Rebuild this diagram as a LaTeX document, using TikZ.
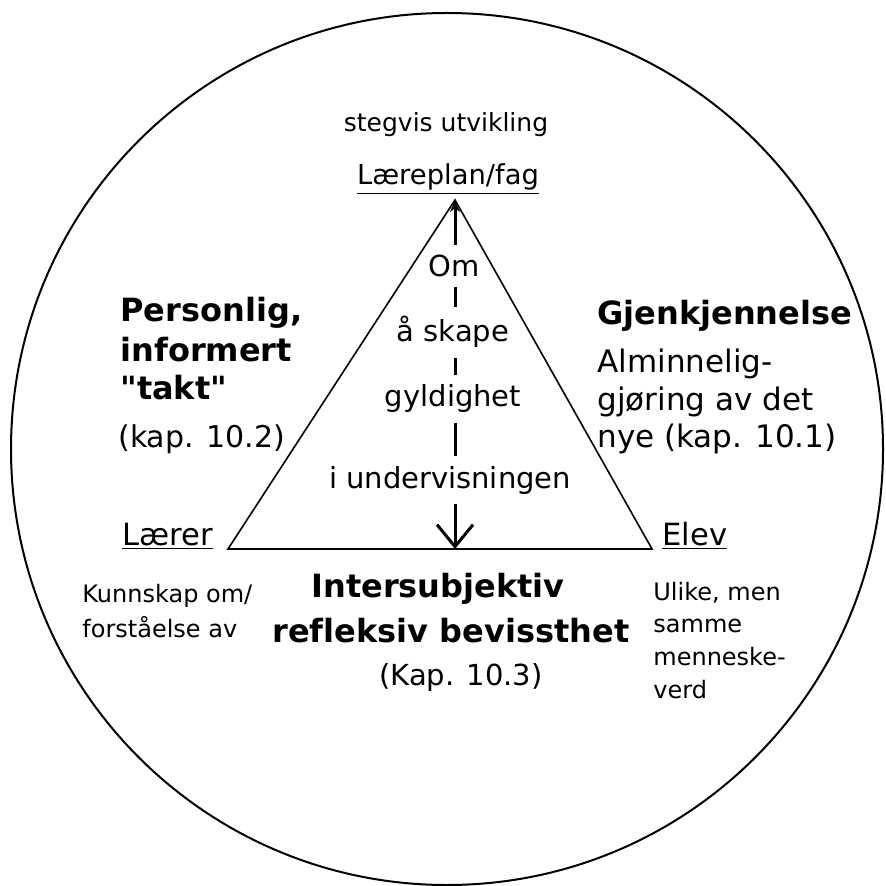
\documentclass[tikz,border=0pt]{standalone}
\usepackage{fontspec}
\setmainfont{DejaVu Sans}[Ligatures={TeX,NoCommon}]
\usetikzlibrary{arrows.meta}
\newcommand{\fs}[1]{\fontsize{#1}{#1}\selectfont}
\begin{document}
\begin{tikzpicture}[x=0.5pt,y=-0.5pt,
    lbl/.style={inner sep=0pt,anchor=base west},
    mid/.style={inner sep=0pt,anchor=base},
    axis/.style={mid,fill=white,inner xsep=2pt,inner ysep=5pt,font=\fs{14.5}}]
  \useasboundingbox (0,0) rectangle (885,886);
  \draw[line width=1pt] (447,449) circle (218pt);
  % triangle
  \coordinate (fag) at (455,200);
  \coordinate (laerer) at (228,549);
  \coordinate (elev) at (652,549);
  \coordinate (basis) at (455,549);
  \draw[line width=1.5pt,{Stealth[length=6pt,width=5pt]}-{Straight Barb[length=11pt,width=18pt]}] (fag) -- (basis);
  \node[axis] (om) at (454,277) {Om};
  \node[axis] (skape) at (453,342) {å skape};
  \node[axis] (gyldig) at (453,407) {gyldighet};
  \node[axis] (underv) at (450,488) {i undervisningen};
  \draw[line width=0.8pt] (fag) -- (laerer) -- (elev) -- cycle;
  % top
  \node[mid,font=\fs{12.5}] (steg) at (446,132) {stegvis utvikling};
  \node[mid,font=\fs{13.7}] (plan) at (448,185) {\underline{Læreplan/fag}};
  % left
  \node[lbl,font=\bfseries\fs{16}] (pers) at (120,322) {Personlig,};
  \node[lbl,font=\bfseries\fs{16}] (inform) at (120,362) {informert};
  \node[lbl,font=\bfseries\fs{16}] (takt) at (120,400) {\textquotedbl takt\textquotedbl};
  \node[lbl,font=\fs{15}] (kap2) at (118,447) {(kap. 10.2)};
  % right
  \node[lbl,font=\bfseries\fs{16}] (gjenk) at (597,325) {Gjenkjennelse};
  \node[lbl,font=\fs{15.5}] (almin) at (597,373) {Alminnelig-};
  \node[lbl,font=\fs{15.5}] (gjor) at (597,410) {gjøring av det};
  \node[lbl,font=\fs{15.5}] (kap1) at (597,447) {nye (kap. 10.1)};
  % corners
  \node[lbl,font=\fs{15.3}] (laererlbl) at (122,545) {\underline{Lærer}};
  \node[lbl,font=\fs{15.3}] (elevlbl) at (662,545) {\underline{Elev}};
  \node[lbl,font=\fs{12}] (kunn) at (82,602) {Kunnskap om/};
  \node[lbl,font=\fs{12}] (forst) at (82,637) {forståelse av};
  \node[lbl,font=\fs{12}] (ulike) at (653,600) {Ulike, men};
  \node[lbl,font=\fs{12}] (samme) at (653,632) {samme};
  \node[lbl,font=\fs{12}] (mennesk) at (653,665) {menneske-};
  \node[lbl,font=\fs{12}] (verd) at (653,698) {verd};
  % bottom
  \node[mid,font=\bfseries\fs{16}] (inter) at (438,597) {Intersubjektiv};
  \node[mid,font=\bfseries\fs{16}] (refl) at (451,642) {refleksiv bevissthet};
  \node[mid,font=\fs{14.5}] (kap3) at (461,685) {(Kap. 10.3)};
\end{tikzpicture}
\end{document}
